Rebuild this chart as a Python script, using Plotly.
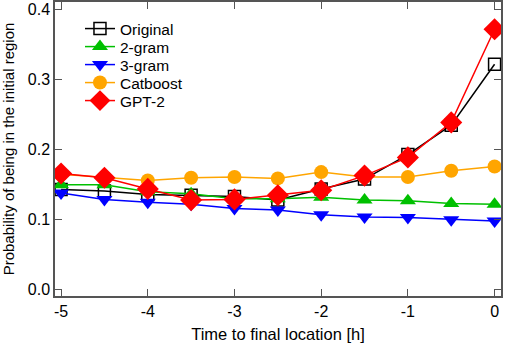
import plotly.graph_objects as go

hours = [-5, -4.5, -4, -3.5, -3, -2.5, -2, -1.5, -1, -0.5, 0]
original = [0.143, 0.141, 0.136, 0.135, 0.133, 0.128, 0.144, 0.158, 0.193, 0.235, 0.322]
gram2 = [0.150, 0.150, 0.140, 0.137, 0.130, 0.130, 0.132, 0.128, 0.127, 0.123, 0.122]
gram3 = [0.138, 0.129, 0.125, 0.122, 0.116, 0.114, 0.107, 0.104, 0.103, 0.100, 0.098]
catboost = [0.165, 0.160, 0.156, 0.160, 0.161, 0.159, 0.168, 0.161, 0.161, 0.170, 0.176]
gpt2 = [0.166, 0.160, 0.144, 0.128, 0.129, 0.135, 0.142, 0.163, 0.189, 0.239, 0.372]

series = [
    ("Original", original, "black", "square-open", 12),
    ("2-gram", gram2, "#00C000", "triangle-up", 14),
    ("3-gram", gram3, "#0000FF", "triangle-down", 14),
    ("Catboost", catboost, "#FFA500", "circle", 14),
    ("GPT-2", gpt2, "#FF0000", "diamond", 17),
]

legend_rows_y = [0.9082, 0.8469, 0.7857, 0.7245, 0.6633]
legend_ids = ["legend", "legend2", "legend3", "legend4", "legend5"]

fig = go.Figure()
for (name, vals, col, sym, sz), lid in zip(series, legend_ids):
    mk = dict(symbol=sym, size=sz, color=col)
    if sym == "square-open":
        mk["line"] = dict(color=col, width=1.5)
    fig.add_trace(go.Scatter(x=hours, y=vals, name=name, mode="lines+markers",
                             line=dict(color=col, width=1.5), marker=mk, legend=lid))

axis_common = dict(showline=True, linecolor="#555555", linewidth=1.5, mirror="ticks",
                   ticks="inside", ticklen=7, tickcolor="#555555", tickwidth=1.2,
                   showgrid=False, zeroline=False, automargin=False,
                   tickfont=dict(family="Liberation Sans, Arial", size=16, color="black"))

legend_layout = {}
for lid, ly in zip(legend_ids, legend_rows_y):
    legend_layout[lid] = dict(x=0.056, y=ly, xanchor="left", yanchor="middle",
                              bgcolor="rgba(0,0,0,0)", font=dict(size=15.5), itemwidth=30)

fig.update_layout(
    width=505, height=344,
    margin=dict(l=55, r=4, t=2, b=48),
    paper_bgcolor="white", plot_bgcolor="white",
    font=dict(family="Liberation Sans, Arial", size=16, color="black"),
    xaxis=dict(range=[-5.07, 0.074], tickvals=[-5, -4, -3, -2, -1, 0],
               ticktext=["-5", "-4", "-3", "-2", "-1", "0"],
               title=dict(text="Time to final location [h]", font=dict(size=16.5), standoff=9),
               **axis_common),
    yaxis=dict(range=[-0.009, 0.411], tickvals=[0.0, 0.1, 0.2, 0.3, 0.4],
               ticktext=["0.0", "0.1", "0.2", "0.3", "0.4"],
               title=dict(text="Probability of being in the initial region", font=dict(size=15), standoff=10),
               **axis_common),
    showlegend=True,
    **legend_layout,
)

fig.write_html("out.html", config={"displayModeBar": False},
               post_script="document.body.style.margin='0px';")
